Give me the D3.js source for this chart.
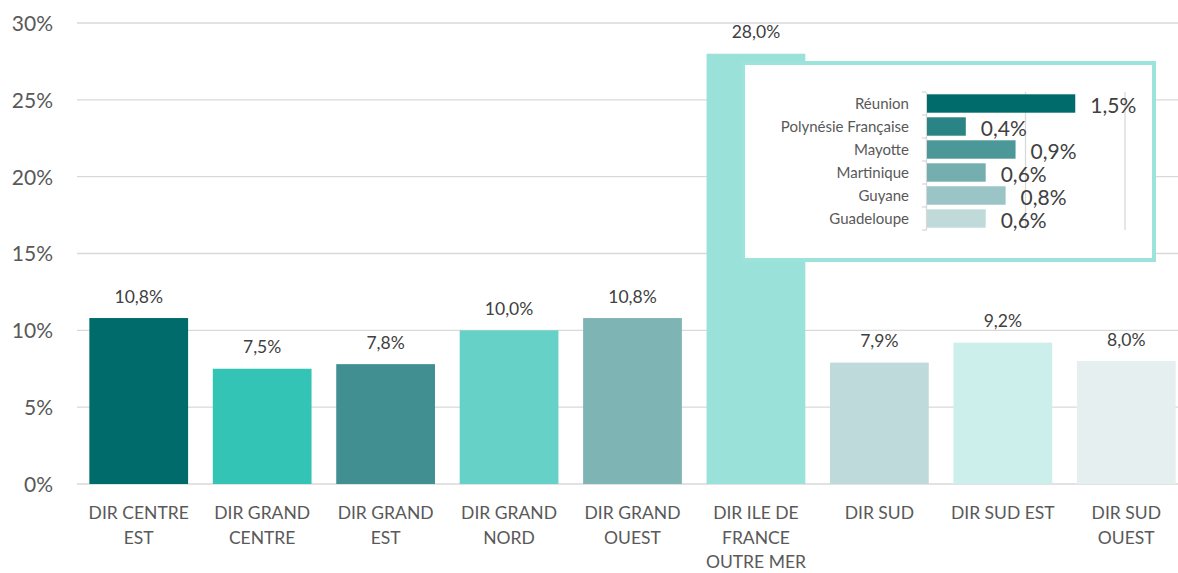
<!DOCTYPE html>
<html>
<head>
<meta charset="utf-8">
<script src="https://cdn.jsdelivr.net/npm/d3@7"></script>
<style>
  body { margin: 0; background: #fff; }
  svg { display: block; font-family: Lato, "Open Sans", sans-serif; }
</style>
</head>
<body>
<div id="chart"></div>
<script>
var categories = [
  ["DIR CENTRE", "EST"],
  ["DIR GRAND", "CENTRE"],
  ["DIR GRAND", "EST"],
  ["DIR GRAND", "NORD"],
  ["DIR GRAND", "OUEST"],
  ["DIR ILE DE", "FRANCE", "OUTRE MER"],
  ["DIR SUD"],
  ["DIR SUD EST"],
  ["DIR SUD", "OUEST"]
];
var values = [10.8, 7.5, 7.8, 10.0, 10.8, 28.0, 7.9, 9.2, 8.0];
var barColors = ["#006b6b", "#34c4b5", "#428f91", "#66d1c6", "#7fb4b5", "#9ae1da", "#bfdada", "#ccefeb", "#e5efef"];
var yTicks = [0, 5, 10, 15, 20, 25, 30];

var insetCats = ["Réunion", "Polynésie Française", "Mayotte", "Martinique", "Guyane", "Guadeloupe"];
var insetValues = [1.5, 0.4, 0.9, 0.6, 0.8, 0.6];
var insetColors = ["#006b6b", "#2a8385", "#4c9797", "#74aeaf", "#9ac4c5", "#c0dada"];
var insetTicks = [1, 2];

var width = 1178, height = 573;
var fmt = function (v) { return v.toFixed(1).replace(".", ",") + "%"; };

var svg = d3.select("#chart").append("svg")
  .attr("width", width)
  .attr("height", height);

var x = d3.scaleBand()
  .domain(d3.range(values.length))
  .range([77, 1188])
  .paddingInner(0.2)
  .paddingOuter(0.1);
var y = d3.scaleLinear().domain([0, 30]).range([484, 23]);

// gridlines
svg.append("g").selectAll("line")
  .data(yTicks)
  .enter()
  .append("line")
  .attr("x1", 77).attr("x2", 1178)
  .attr("y1", function (d) { return y(d); })
  .attr("y2", function (d) { return y(d); })
  .attr("stroke", "#d9d9d9")
  .attr("stroke-width", 1.3);

svg.append("g").selectAll("text")
  .data(yTicks)
  .enter()
  .append("text")
  .attr("x", 53)
  .attr("y", function (d) { return y(d); })
  .attr("dy", "0.38em")
  .attr("text-anchor", "end")
  .style("font-size", "21px")
  .style("fill", "#595959")
  .text(function (d) { return d + "%"; });

// bars
svg.append("g").selectAll("rect")
  .data(values)
  .enter()
  .append("rect")
  .attr("x", function (d, i) { return x(i); })
  .attr("width", x.bandwidth())
  .attr("y", function (d) { return y(d); })
  .attr("height", function (d) { return y(0) - y(d); })
  .attr("fill", function (d, i) { return barColors[i]; });

svg.append("g").selectAll("text")
  .data(values)
  .enter()
  .append("text")
  .attr("x", function (d, i) { return x(i) + x.bandwidth() / 2; })
  .attr("y", function (d) { return y(d) - 15.5; })
  .attr("text-anchor", "middle")
  .style("font-size", "17.5px")
  .style("fill", "#404040")
  .text(fmt);

// category labels
var catG = svg.append("g").selectAll("text")
  .data(categories)
  .enter()
  .append("text")
  .attr("text-anchor", "middle")
  .style("font-size", "17.5px")
  .style("fill", "#595959");
catG.each(function (lines, i) {
  var t = d3.select(this);
  lines.forEach(function (ln, k) {
    t.append("tspan")
      .attr("x", x(i) + x.bandwidth() / 2)
      .attr("y", 519 + k * 24.5)
      .text(ln);
  });
});

// inset
var inset = svg.append("g");
inset.append("rect")
  .attr("x", 743).attr("y", 63)
  .attr("width", 411).attr("height", 197)
  .attr("fill", "#fff")
  .attr("stroke", "#9be3db")
  .attr("stroke-width", 4);

var ix = d3.scaleLinear().domain([0, 2]).range([926, 1125]);
var iy = d3.scaleBand()
  .domain(insetCats)
  .range([92, 230])
  .paddingInner(0.2)
  .paddingOuter(0.1);

inset.append("g").selectAll("line")
  .data(insetTicks)
  .enter()
  .append("line")
  .attr("x1", function (d) { return ix(d); })
  .attr("x2", function (d) { return ix(d); })
  .attr("y1", 92).attr("y2", 230)
  .attr("stroke", "#d9d9d9")
  .attr("stroke-width", 1.3);

var yAxis = inset.append("g")
  .attr("transform", "translate(" + ix(0) + ",0)")
  .call(d3.axisLeft(iy).tickSize(0).tickFormat(""));
yAxis.select(".domain").attr("stroke", "#d9d9d9").attr("stroke-width", 1.3);
// boundary ticks between bands
var bounds = d3.range(insetCats.length + 1).map(function (k) { return 92 + k * (138 / insetCats.length); });
inset.append("g").selectAll("line")
  .data(bounds)
  .enter()
  .append("line")
  .attr("x1", ix(0) - 4).attr("x2", ix(0))
  .attr("y1", function (d) { return d; })
  .attr("y2", function (d) { return d; })
  .attr("stroke", "#d9d9d9")
  .attr("stroke-width", 1.3);

inset.append("g").selectAll("rect")
  .data(insetValues)
  .enter()
  .append("rect")
  .attr("x", ix(0) + 1)
  .attr("y", function (d, i) { return iy(insetCats[i]); })
  .attr("height", iy.bandwidth())
  .attr("width", function (d) { return ix(d) - ix(0) - 1; })
  .attr("fill", function (d, i) { return insetColors[i]; });

inset.append("g").selectAll("text")
  .data(insetCats)
  .enter()
  .append("text")
  .attr("x", 909)
  .attr("y", function (d) { return iy(d) + iy.bandwidth() / 2; })
  .attr("dy", "0.36em")
  .attr("text-anchor", "end")
  .style("font-size", "15px")
  .style("fill", "#595959")
  .text(function (d) { return d; });

inset.append("g").selectAll("text")
  .data(insetValues)
  .enter()
  .append("text")
  .attr("x", function (d) { return ix(d) + 15; })
  .attr("y", function (d, i) { return iy(insetCats[i]) + iy.bandwidth() + 0.5; })
  .style("font-size", "21px")
  .style("fill", "#404040")
  .text(fmt);
</script>
</body>
</html>
